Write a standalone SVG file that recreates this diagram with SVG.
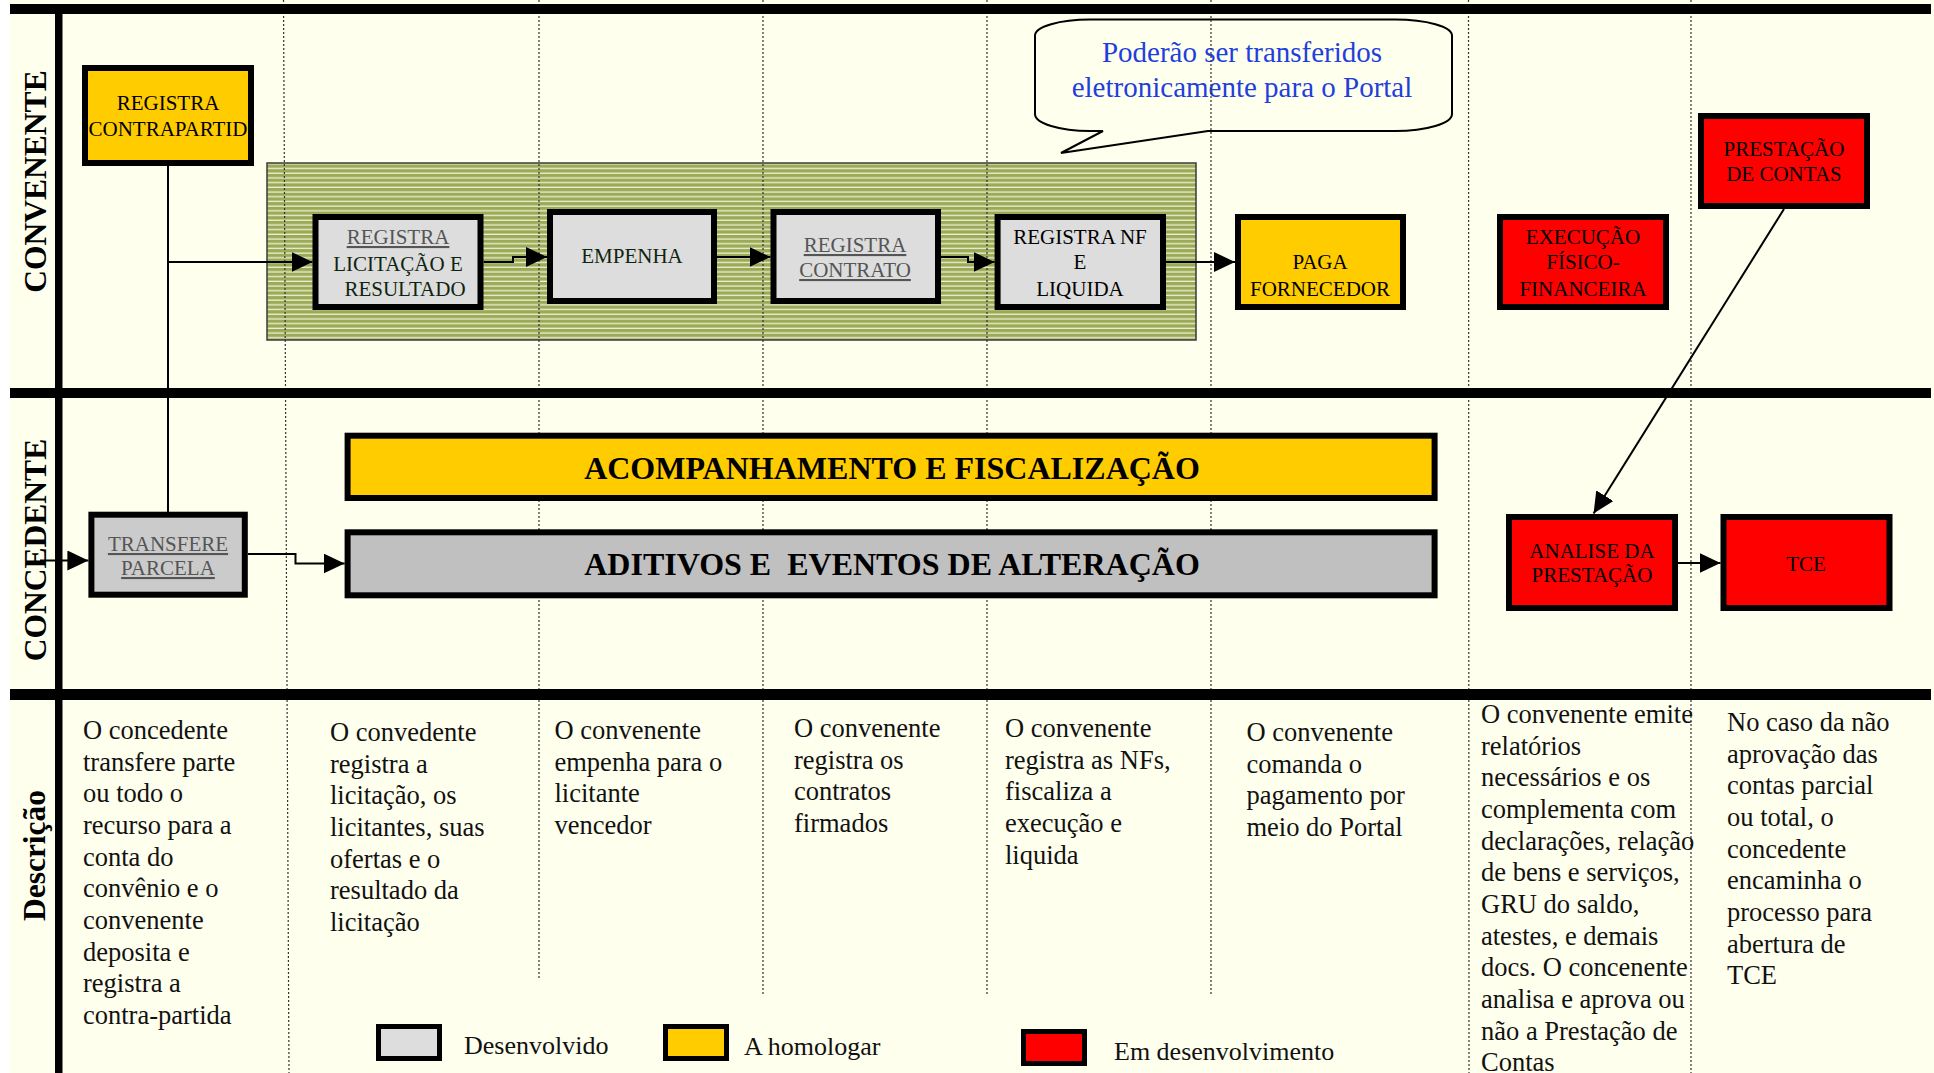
<svg xmlns="http://www.w3.org/2000/svg" width="1934" height="1073" viewBox="0 0 1934 1073">
<defs>
<pattern id="stripes" patternUnits="userSpaceOnUse" width="10" height="4.7">
<rect width="10" height="4.7" fill="#9BAA55"/>
<rect y="3.4" width="10" height="1.2" fill="#F4F6E4"/>
</pattern>
<marker id="arr" markerUnits="userSpaceOnUse" markerWidth="22" markerHeight="20" refX="21" refY="10" orient="auto">
<path d="M0,0 L21,10 L0,20 Z" fill="#000"/>
</marker>
</defs>
<style>
text{font-family:"Liberation Serif","Times New Roman",serif;}
.n{font-size:21px;fill:#000;text-anchor:middle;}
.d{fill:#0F2410;}
.u{fill:#555;text-decoration:underline;}
.lane{font-size:31.5px;font-weight:bold;text-anchor:middle;fill:#000;}
.big{font-size:32px;font-weight:bold;text-anchor:middle;fill:#000;}
.desc{font-size:26.5px;fill:#111;}
.leg{font-size:26px;fill:#111;}
.box{stroke:#000;stroke-width:6;}
.gray{fill:#DDDDDD;}
.yel{fill:#FFCC00;}
.red{fill:#FF0000;}
.dot{stroke:#333;stroke-width:1.2;stroke-dasharray:2 2;fill:none;}
.bar{fill:#000;}
.con{stroke:#000;stroke-width:2;fill:none;}
</style>
<rect width="1934" height="1073" fill="#FFFFFF"/>
<rect x="10" y="0" width="1924" height="1073" fill="#FFFFEE"/>

<g id="panel">
<rect x="267" y="163" width="929" height="177" fill="url(#stripes)" stroke="#3a3a3a" stroke-width="1.5"/>
</g>

<g id="callout">
<path d="M1090,19.5 H1395 A57 16 0 0 1 1452 35.5 V114 A57 17 0 0 1 1395 131 H1208 L1061 153 L1103 131 H1090 A55 17 0 0 1 1035 114 V35.5 A55 16 0 0 1 1090 19.5 Z" fill="#FFFFEE" stroke="#000" stroke-width="2"/>
<text x="1242" y="62" font-size="29" fill="#1F3FDC" text-anchor="middle">Poderão ser transferidos</text>
<text x="1242" y="97" font-size="29" fill="#1F3FDC" text-anchor="middle">eletronicamente para o Portal</text>
</g>

<g id="gridlines">
<line class="dot" x1="283.5" y1="0" x2="289" y2="1073"/>
<line class="dot" x1="539" y1="0" x2="539" y2="980"/>
<line class="dot" x1="763" y1="0" x2="763" y2="995"/>
<line class="dot" x1="987" y1="0" x2="987" y2="995"/>
<line class="dot" x1="1211" y1="0" x2="1211" y2="995"/>
<line class="dot" x1="1468.5" y1="0" x2="1469" y2="1073"/>
<line class="dot" x1="1691" y1="0" x2="1691" y2="1073"/>
</g>

<g id="lanes">
<rect class="bar" x="10" y="4" width="1921" height="10"/>
<rect class="bar" x="10" y="388" width="1921" height="10"/>
<rect class="bar" x="10" y="689" width="1921" height="11"/>
<rect class="bar" x="55" y="4" width="7.5" height="1069"/>
</g>

<g id="connectors">
<path class="con" d="M168,166 V512"/>
<path class="con" d="M168,262 H312.5" marker-end="url(#arr)"/>
<path class="con" d="M483.5,262 H513 V257 H547" marker-end="url(#arr)"/>
<path class="con" d="M717,257 H770.5" marker-end="url(#arr)"/>
<path class="con" d="M941,257 H968 V262 H994.6" marker-end="url(#arr)"/>
<path class="con" d="M1166,262 H1235" marker-end="url(#arr)"/>
<path class="con" d="M1784,209 L1593.6,513.5" marker-end="url(#arr)"/>
<path class="con" d="M1678,563 H1720.5" marker-end="url(#arr)"/>
<path class="con" d="M248,554 H295.5 V563.5 H344.6" marker-end="url(#arr)"/>
<path class="con" d="M40,560.5 H88.4" marker-end="url(#arr)"/>
</g>

<g id="lane-labels">
<text class="lane" transform="translate(46,181.5) rotate(-90)">CONVENENTE</text>
<text class="lane" transform="translate(46,550) rotate(-90)">CONCEDENTE</text>
<text class="lane" transform="translate(45,855.5) rotate(-90)">Descrição</text>
</g>

<g id="n-contrapartida">
<rect class="box yel" x="85" y="68" width="166" height="95"/>
<text class="n" x="168" y="110">REGISTRA</text>
<text class="n" x="168" y="136">CONTRAPARTID</text>
</g>

<g id="n-licitacao">
<rect class="box gray" x="315.5" y="217" width="165" height="90"/>
<text class="n u" x="398" y="244">REGISTRA</text>
<text class="n d" x="398" y="271">LICITAÇÃO E</text>
<text class="n d" x="405" y="296">RESULTADO</text>
</g>

<g id="n-empenha">
<rect class="box gray" x="550" y="212" width="164" height="89"/>
<text class="n d" x="632" y="263">EMPENHA</text>
</g>

<g id="n-contrato">
<rect class="box gray" x="773.5" y="212" width="164.5" height="89"/>
<text class="n u" x="855" y="252">REGISTRA</text>
<text class="n u" x="855" y="277">CONTRATO</text>
</g>

<g id="n-nf">
<rect class="box gray" x="997.6" y="217" width="165.4" height="90"/>
<text class="n" x="1080" y="244">REGISTRA NF</text>
<text class="n" x="1080" y="269">E</text>
<text class="n" x="1080" y="296">LIQUIDA</text>
</g>

<g id="n-paga">
<rect class="box yel" x="1238" y="217" width="165" height="90"/>
<text class="n" x="1320" y="269">PAGA</text>
<text class="n" x="1320" y="296">FORNECEDOR</text>
</g>

<g id="n-execucao">
<rect class="box red" x="1500" y="217" width="166" height="90"/>
<text class="n" x="1583" y="244">EXECUÇÃO</text>
<text class="n" x="1583" y="269">FÍSICO-</text>
<text class="n" x="1583" y="296">FINANCEIRA</text>
</g>

<g id="n-prestacao">
<rect class="box red" x="1701" y="116" width="166" height="90"/>
<text class="n" x="1784" y="156">PRESTAÇÃO</text>
<text class="n" x="1784" y="181">DE CONTAS</text>
</g>

<g id="n-acompanhamento">
<rect class="box yel" x="347.6" y="435.7" width="1087" height="62.3"/>
<text class="big" x="892" y="479">ACOMPANHAMENTO E FISCALIZAÇÃO</text>
</g>

<g id="n-aditivos">
<rect class="box" fill="#C0C0C0" x="347.6" y="532.3" width="1087" height="63"/>
<text class="big" x="892" y="575" xml:space="preserve">ADITIVOS E  EVENTOS DE ALTERAÇÃO</text>
</g>

<g id="n-transfere">
<rect class="box" fill="#CBCBCB" x="91.4" y="514.7" width="153.4" height="80"/>
<text class="n u" x="168" y="551">TRANSFERE</text>
<text class="n u" x="168" y="575">PARCELA</text>
</g>

<g id="n-analise">
<rect class="box red" x="1509" y="517" width="166" height="91"/>
<text class="n" x="1592" y="558">ANALISE DA</text>
<text class="n" x="1592" y="582">PRESTAÇÃO</text>
</g>

<g id="n-tce">
<rect class="box red" x="1723.5" y="517" width="166" height="91"/>
<text class="n" x="1806" y="571">TCE</text>
</g>

<g id="descriptions">
<text class="desc" x="83" y="739">
<tspan x="83" dy="0">O concedente</tspan>
<tspan x="83" dy="31.67">transfere parte</tspan>
<tspan x="83" dy="31.67">ou todo o</tspan>
<tspan x="83" dy="31.67">recurso para a</tspan>
<tspan x="83" dy="31.67">conta do</tspan>
<tspan x="83" dy="31.67">convênio e o</tspan>
<tspan x="83" dy="31.67">convenente</tspan>
<tspan x="83" dy="31.67">deposita e</tspan>
<tspan x="83" dy="31.67">registra a</tspan>
<tspan x="83" dy="31.67">contra-partida</tspan>
</text>
<text class="desc" x="330" y="741">
<tspan x="330" dy="0">O convedente</tspan>
<tspan x="330" dy="31.67">registra a</tspan>
<tspan x="330" dy="31.67">licitação, os</tspan>
<tspan x="330" dy="31.67">licitantes, suas</tspan>
<tspan x="330" dy="31.67">ofertas e o</tspan>
<tspan x="330" dy="31.67">resultado da</tspan>
<tspan x="330" dy="31.67">licitação</tspan>
</text>
<text class="desc" x="554.5" y="739">
<tspan x="554.5" dy="0">O convenente</tspan>
<tspan x="554.5" dy="31.67">empenha para o</tspan>
<tspan x="554.5" dy="31.67">licitante</tspan>
<tspan x="554.5" dy="31.67">vencedor</tspan>
</text>
<text class="desc" x="794" y="737">
<tspan x="794" dy="0">O convenente</tspan>
<tspan x="794" dy="31.67">registra os</tspan>
<tspan x="794" dy="31.67">contratos</tspan>
<tspan x="794" dy="31.67">firmados</tspan>
</text>
<text class="desc" x="1005" y="737">
<tspan x="1005" dy="0">O convenente</tspan>
<tspan x="1005" dy="31.67">registra as NFs,</tspan>
<tspan x="1005" dy="31.67">fiscaliza a</tspan>
<tspan x="1005" dy="31.67">execução e</tspan>
<tspan x="1005" dy="31.67">liquida</tspan>
</text>
<text class="desc" x="1246.5" y="741">
<tspan x="1246.5" dy="0">O convenente</tspan>
<tspan x="1246.5" dy="31.67">comanda o</tspan>
<tspan x="1246.5" dy="31.67">pagamento por</tspan>
<tspan x="1246.5" dy="31.67">meio do Portal</tspan>
</text>
<text class="desc" x="1481" y="723">
<tspan x="1481" dy="0">O convenente emite</tspan>
<tspan x="1481" dy="31.67">relatórios</tspan>
<tspan x="1481" dy="31.67">necessários e os</tspan>
<tspan x="1481" dy="31.67">complementa com</tspan>
<tspan x="1481" dy="31.67">declarações, relação</tspan>
<tspan x="1481" dy="31.67">de bens e serviços,</tspan>
<tspan x="1481" dy="31.67">GRU do saldo,</tspan>
<tspan x="1481" dy="31.67">atestes, e demais</tspan>
<tspan x="1481" dy="31.67">docs. O concenente</tspan>
<tspan x="1481" dy="31.67">analisa e aprova ou</tspan>
<tspan x="1481" dy="31.67">não a Prestação de</tspan>
<tspan x="1481" dy="31.67">Contas</tspan>
</text>
<text class="desc" x="1727" y="731">
<tspan x="1727" dy="0">No caso da não</tspan>
<tspan x="1727" dy="31.67">aprovação das</tspan>
<tspan x="1727" dy="31.67">contas parcial</tspan>
<tspan x="1727" dy="31.67">ou total, o</tspan>
<tspan x="1727" dy="31.67">concedente</tspan>
<tspan x="1727" dy="31.67">encaminha o</tspan>
<tspan x="1727" dy="31.67">processo para</tspan>
<tspan x="1727" dy="31.67">abertura de</tspan>
<tspan x="1727" dy="31.67">TCE</tspan>
</text>
</g>

<g id="legend">
<rect x="378.5" y="1026.5" width="61" height="32" fill="#DDDDDD" stroke="#000" stroke-width="5"/>
<text class="leg" x="464" y="1054">Desenvolvido</text>
<rect x="665.5" y="1026.5" width="61" height="32" fill="#FFCC00" stroke="#000" stroke-width="5"/>
<text class="leg" x="744" y="1055">A homologar</text>
<rect x="1023.5" y="1031.5" width="61" height="32" fill="#FF0000" stroke="#000" stroke-width="5"/>
<text class="leg" x="1114" y="1060">Em desenvolvimento</text>
</g>
</svg>
